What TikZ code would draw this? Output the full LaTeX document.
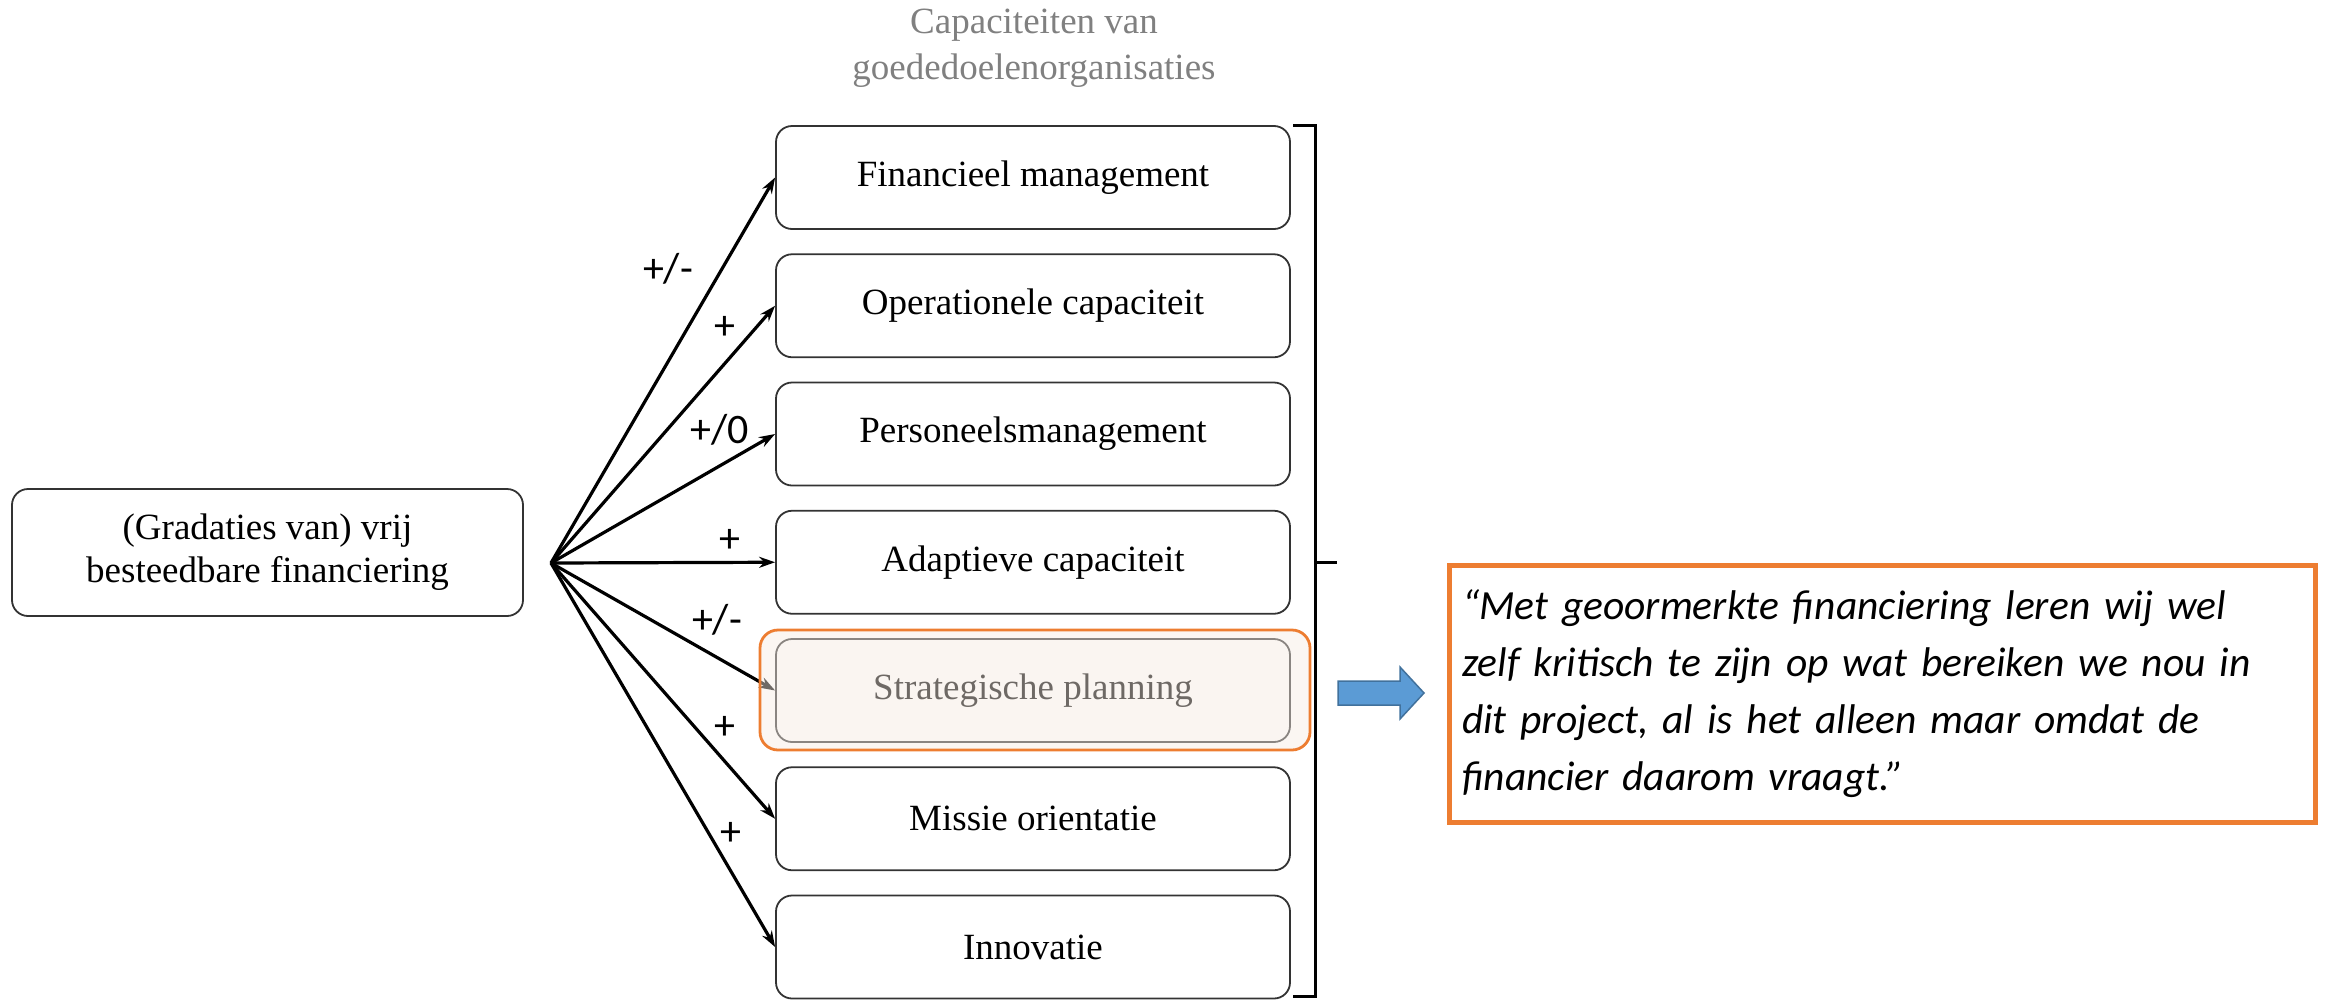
\documentclass[tikz,border=0pt]{standalone}
\usepackage{fontspec}
\setmainfont{Liberation Serif}
\newfontfamily\calibri{Carlito}
\usetikzlibrary{arrows.meta, positioning}

\definecolor{hlorange}{HTML}{ED7D31}
\definecolor{arrowblue}{HTML}{5B9BD5}
\definecolor{arrowedge}{HTML}{41719C}
\definecolor{beige}{RGB}{246,235,226}

\tikzset{
  capbox/.style={draw=black!80, line width=1.8pt, rounded corners=16pt, fill=white,
    minimum width=514pt, minimum height=103pt, font=\fontsize{37}{43}\selectfont},
  sign/.style={font=\calibri\fontsize{42}{44}\selectfont},
  link/.style={line width=3.2pt, -{Stealth[length=16pt,width=11pt]}}
}

\begin{document}
\begin{tikzpicture}[x=1pt, y=-1pt]
  \useasboundingbox (0,0) rectangle (2326,999);

  % titel boven de kolom
  \node[text=black!50, align=center, font=\fontsize{37}{46}\selectfont] (title) at (1034,48)
    {Capaciteiten van\\goededoelenorganisaties};

  % bron links
  \node[capbox, minimum width=511pt, minimum height=127pt, align=center] (src) at (267.5,552.5)
    {(Gradaties van) vrij\\besteedbare financiering};
  \coordinate (hub) at (551,563);

  % capaciteiten
  \foreach \txt [count=\i] in {Financieel management, Operationele capaciteit,
      Personeelsmanagement, Adaptieve capaciteit, Strategische planning,
      Missie orientatie, Innovatie} {
    \node[capbox] (b\i) at (1033,{177.5+128.25*(\i-1)}) {\txt};
  }

  % pijlen met tekens
  \foreach \i/\s/\lx/\ly in {1/{+/-}/668/269, 2/+/725/328, 3/{+/0}/720/430, 4/+/730/541,
      5/{+/-}/717/620, 6/+/725/728, 7/+/731/834} {
    \draw[link] (hub) -- (b\i.west);
    \node[sign] (l\i) at (\lx,\ly) {\s};
  }

  % markering strategische planning
  \node[draw=hlorange, line width=2.8pt, rounded corners=18pt, fill=beige, fill opacity=0.45,
    minimum width=550pt, minimum height=120pt] (mark) at (1035,690) {};

  % accolade
  \draw[line width=3pt] (1293,125) -- (1315,125) -- (1315,996) -- (1293,996);
  \draw[line width=3pt] (1315,562) -- (1337,562);

  % blauwe pijl
  \draw[draw=arrowedge, fill=arrowblue, line width=1.5pt]
    (1338,681) -- (1400,681) -- (1400,667) -- (1424,693) -- (1400,719) -- (1400,705) -- (1338,705) -- cycle;

  % citaat
  \node[draw=hlorange, line width=5pt, minimum width=866pt, minimum height=257pt,
    text width=840pt, inner xsep=13pt, align=left,
    font=\calibri\itshape\fontsize{41.5}{57}\selectfont] (quote) at (1882,693.5)
    {“Met geoormerkte financiering leren wij wel\\zelf kritisch te zijn op wat bereiken we nou in\\dit project, al is het alleen maar omdat de\\financier daarom vraagt.”};
\end{tikzpicture}
\end{document}
